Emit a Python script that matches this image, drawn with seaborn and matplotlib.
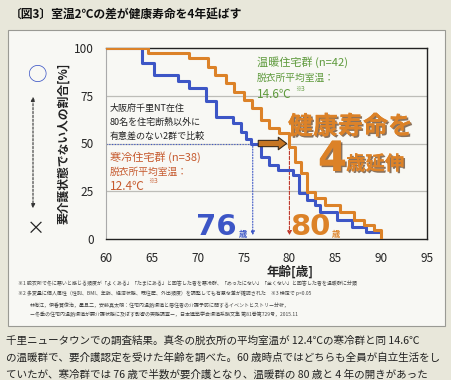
import matplotlib
matplotlib.use("Agg")
import numpy as np
import pandas as pd
import matplotlib.pyplot as plt
import matplotlib.patheffects as pe
from matplotlib.patches import Rectangle, FancyArrowPatch
import seaborn as sns

# --- données (courbes en escalier) ---
cold_age = [60, 63.9, 65.2, 67.9, 69.0, 70.9, 72.0, 73.8, 74.7, 75.3, 75.8, 76.9,
            77.8, 78.8, 80.4, 81.0, 81.9, 82.8, 83.3, 85.2, 86.8, 88.3, 90.0]
cold_pct = [100, 92, 86, 82.5, 79, 72, 64, 60.5, 56, 52.6, 50, 43,
            38.7, 36, 33.5, 24, 20.5, 17.8, 14.3, 10, 6.4, 3.8, 3.8]
warm_age = [60, 64.6, 69.0, 71.1, 71.9, 73.1, 74.0, 75.0, 75.9, 76.9, 77.8, 78.9,
            79.9, 80.6, 81.3, 81.9, 82.8, 83.9, 85.5, 87.0, 88.1, 89.2, 90.0]
warm_pct = [100, 97.6, 94.6, 90.2, 85.7, 81.5, 77, 72.6, 68.4, 62.3, 58, 55.3,
            48.3, 40.5, 34.8, 24.8, 21.3, 17.8, 14.3, 9.9, 7.3, 4.7, 0]
groups = ["寒冷住宅群", "温暖住宅群"]
x_ticks = [60, 65, 70, 75, 80, 85, 90, 95]
y_ticks = [0, 25, 50, 75, 100]
half_age = [76, 80]

BLUE = "#3d56c6"
ORANGE = "#dc8228"
GREEN = "#5e9a3c"
RED = "#c65a2e"
BG = "#e8e7da"

sns.set_style("white")
plt.rcParams['font.family'] = ['Noto Sans CJK JP', 'DejaVu Sans']

W, H = 451, 380
fig = plt.figure(figsize=(W / 100, H / 100), dpi=100, facecolor=BG)


def px(x, y):
    return x / W, 1 - y / H


# cadre blanc (derrière les axes)
fig.patches.append(Rectangle(px(8, 326), 437 / W, 296 / H, transform=fig.transFigure,
                             facecolor="#f8f8f4", edgecolor="#9a9a94", lw=0.8, zorder=-5))

ax = fig.add_axes([106 / W, 1 - 239 / H, 321 / W, 191 / H])
ax.set_facecolor("#f8f8f4")

df = pd.concat([
    pd.DataFrame({"age": cold_age, "pct": cold_pct, "groupe": groups[0]}),
    pd.DataFrame({"age": warm_age, "pct": warm_pct, "groupe": groups[1]}),
])
sns.lineplot(data=df, x="age", y="pct", hue="groupe", palette=[BLUE, ORANGE],
             drawstyle="steps-post", lw=2.2, estimator=None, legend=False, ax=ax, zorder=3)

ax.set_xlim(60, 95)
ax.set_ylim(0, 100)
ax.set_xticks(x_ticks)
ax.set_yticks(y_ticks)
ax.tick_params(axis="both", labelsize=8.5, length=3, color="#333333", pad=6)
ax.tick_params(axis="y", length=0, pad=9)
for y in y_ticks[1:-1]:
    ax.axhline(y, color="#bdbdb8", lw=0.9, zorder=1)
for s in ["top", "right", "bottom"]:
    ax.spines[s].set_color("#222222")
    ax.spines[s].set_linewidth(1.0)
ax.spines["left"].set_color("#aaaaaa")
ax.set_xlabel("")
ax.set_ylabel("")

# lignes 50 %
ax.plot([60, half_age[0]], [50, 50], color=BLUE, lw=0.8, ls=(0, (1, 1.5)), zorder=2)
ax.annotate("", xy=(half_age[0], 0.5), xytext=(half_age[0], 50),
            arrowprops=dict(arrowstyle="-|>", color=BLUE, lw=0.8, ls=(0, (1, 1.5)),
                            mutation_scale=6), zorder=2)
ax.annotate("", xy=(half_age[1], 0.5), xytext=(half_age[1], 50),
            arrowprops=dict(arrowstyle="-|>", color="#c0392b", lw=0.8, ls=(0, (3, 1.5)),
                            mutation_scale=6), zorder=2)
ax.add_patch(FancyArrowPatch((half_age[0] + 0.3, 50), (half_age[1], 50),
                             arrowstyle="simple,head_width=0.9,head_length=0.6,tail_width=0.45",
                             mutation_scale=10, facecolor="#c67624", edgecolor="#3a2a1a",
                             lw=0.8, zorder=4))

# textes dans le graphique
fig.text(*px(257, 62), "温暖住宅群 (n=42)", color=GREEN, fontsize=8, va="center")
fig.text(*px(257, 78), "脱衣所平均室温：", color=GREEN, fontsize=7, va="center")
fig.text(*px(257, 95), "14.6℃", color=GREEN, fontsize=8.5, va="center")
fig.text(*px(295, 89), "※3", color=GREEN, fontsize=4.5, va="center")

fig.text(*px(110, 108), "大阪府千里NT在住", color="#222222", fontsize=6.5, va="center")
fig.text(*px(110, 122), "80名を住宅断熱以外に", color="#222222", fontsize=6.5, va="center")
fig.text(*px(110, 136), "有意差のない2群で比較", color="#222222", fontsize=6.5, va="center")

fig.text(*px(110, 157), "寒冷住宅群 (n=38)", color=RED, fontsize=8, va="center")
fig.text(*px(110, 172), "脱衣所平均室温：", color=RED, fontsize=7, va="center")
fig.text(*px(110, 187), "12.4℃", color=RED, fontsize=8.5, va="center")
fig.text(*px(148, 181), "※3", color=RED, fontsize=4.5, va="center")

shadow = [pe.withSimplePatchShadow(offset=(1.2, -1.2), shadow_rgbFace="#5a3a1e", alpha=0.7), pe.Normal()]
fig.text(*px(288, 127), "健康寿命を", color=ORANGE, fontsize=18, fontweight="bold",
         va="center", path_effects=shadow)
fig.text(*px(318, 159), "4", color=ORANGE, fontsize=30, fontweight="bold",
         va="center", family="DejaVu Sans", path_effects=shadow)
fig.text(*px(346, 164), "歳延伸", color=ORANGE, fontsize=14, fontweight="bold",
         va="center", path_effects=shadow)

fig.text(*px(196, 227), "76", color=BLUE, fontsize=21, fontweight="bold", va="center",
         family="DejaVu Sans")
fig.text(*px(239, 234), "歳", color=BLUE, fontsize=6, fontweight="bold", va="center")
fig.text(*px(290, 227), "80", color=ORANGE, fontsize=21, fontweight="bold", va="center",
         family="DejaVu Sans")
fig.text(*px(332, 234), "歳", color=ORANGE, fontsize=6, fontweight="bold", va="center")

# axe des y : libellé et flèche ○ / ×
fig.text(*px(64, 143), "要介護状態でない人の割合[%]", rotation=90, fontsize=8.5,
         fontweight="bold", ha="center", va="center", color="#222222")
fig.text(*px(38, 75), "○", fontsize=14, color=BLUE, ha="center", va="center")
fig.text(*px(36, 229), "×", fontsize=13, color="#222222", ha="center", va="center")
fig.patches.append(FancyArrowPatch(px(33, 211), px(33, 94), transform=fig.transFigure,
                                   arrowstyle="<|-|>", mutation_scale=6, lw=0.8,
                                   ls=(0, (2, 1.5)), color="#333333"))

fig.text(*px(290, 272), "年齢[歳]", fontsize=9, fontweight="bold", ha="center", va="center")

# notes
notes = [
    (18, 284, "※1 脱衣所で冬に寒いと感じる頻度が「よくある」「たまにある」と回答した者を寒冷群、「めったにない」「全くない」と回答した者を温暖群に分類"),
    (18, 293, "※2 多変量に個人属性（性別、BMI、年齢、経済状態、既往歴、外出頻度）を調整しても有意な差が確認された　※3 検定で p<0.05"),
    (30, 305, "林侑江，伊香賀俊治，星旦二，安藤真太朗：住宅内温熱環境と居住者の介護予防に関するイベントヒストリー分析，"),
    (30, 314, "ー冬季の住宅内温熱環境が要介護状態に及ぼす影響の実態調査ー，日本建築学会環境系論文集 第81巻第729号，2015.11"),
]
for x, y, t in notes:
    fig.text(*px(x, y), t, fontsize=3.6, color="#444444", va="center")

# titre et légende
fig.text(*px(10, 15), "〔図3〕室温2℃の差が健康寿命を4年延ばす", fontsize=8.5,
         fontweight="bold", va="center", color="#111111")
caption = [
    "千里ニュータウンでの調査結果。真冬の脱衣所の平均室温が 12.4℃の寒冷群と同 14.6℃",
    "の温暖群で、要介護認定を受けた年齢を調べた。60 歳時点ではどちらも全員が自立生活をし",
    "ていたが、寒冷群では 76 歳で半数が要介護となり、温暖群の 80 歳と 4 年の開きがあった",
]
for i, line in enumerate(caption):
    fig.text(*px(6, 341 + i * 17), line, fontsize=7.6, va="center", color="#222222")

fig.savefig("out.png", dpi=100, facecolor=BG)
